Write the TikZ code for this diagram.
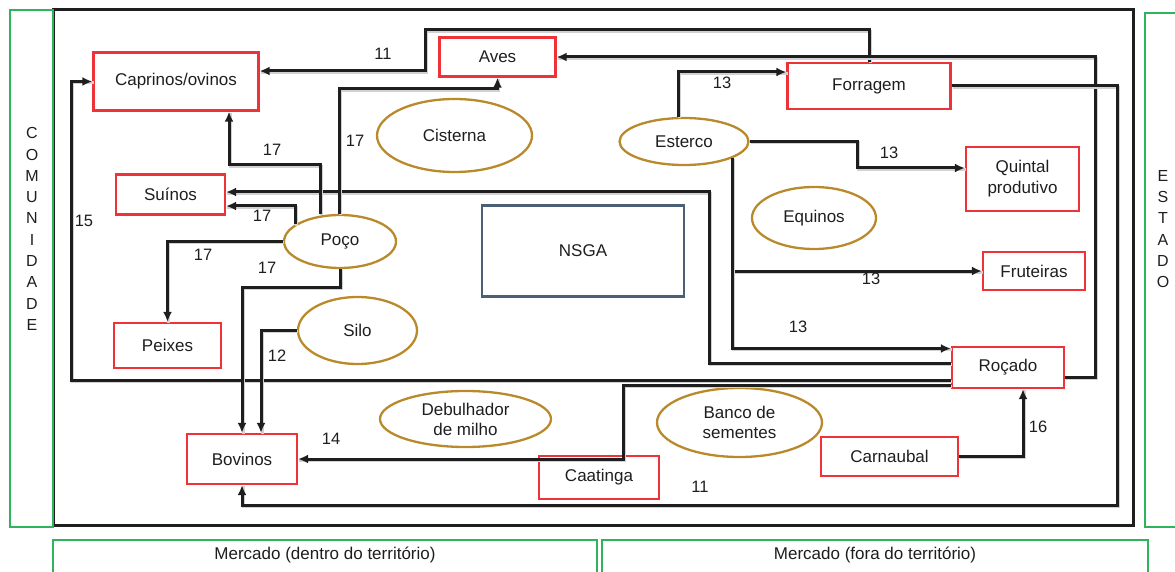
\documentclass[tikz,border=0pt]{standalone}
\usepackage{fontspec}
\setmainfont{Liberation Sans}
\usetikzlibrary{arrows.meta,shapes.geometric}
\definecolor{boxred}{HTML}{EE3237}
\definecolor{ochre}{HTML}{B88A2C}
\definecolor{frgreen}{HTML}{2FB35C}
\definecolor{ink}{HTML}{1E1E1E}
\definecolor{slate}{HTML}{4B5F75}
\begin{document}
\begin{tikzpicture}[x=1pt,y=-1pt,
  every node/.style={text=ink},
  redbox/.style={draw=boxred, line width=2.3pt, inner sep=0pt, align=center, font=\fontsize{17}{21}\selectfont},
  pond/.style={draw=ochre, line width=2.3pt, ellipse, inner sep=0pt, align=center, font=\fontsize{17}{20}\selectfont},
  flow/.style={draw=ink, line width=3pt, -{Latex[length=10pt,width=9pt]},
    preaction={draw=black!18, line width=3pt, arrows=-, transform canvas={shift={(1.2pt,-1.2pt)}}}},
  num/.style={font=\fontsize{16.5}{18}\selectfont},
  zone/.style={draw=frgreen, line width=2.3pt},
  zonetext/.style={font=\fontsize{16}{21.3}\selectfont, align=center, inner sep=0pt},
]
\useasboundingbox (0,0) rectangle (1175,572);

% outer frame of the system
\draw[draw=ink, line width=3pt] (53,10) rectangle (1133,525);

% surrounding zones
\draw[zone] (10,10) rectangle (53,527);
\draw[zone] (1145,13) rectangle (1195,527);
\draw[zone] (53,540) rectangle (597,590);
\draw[zone] (602,540) rectangle (1148,590);
\node[zonetext] (comunidade) at (32,229) {C\\O\\M\\U\\N\\I\\D\\A\\D\\E};
\node[zonetext] (estado) at (1163,229) {E\\S\\T\\A\\D\\O};
\node[font=\fontsize{17}{20}\selectfont] (mercin) at (325,555) {Mercado (dentro do território)};
\node[font=\fontsize{17}{20}\selectfont] (mercout) at (875,555) {Mercado (fora do território)};

% central unit
\node[draw=slate, line width=2.3pt, minimum width=202, minimum height=91, font=\fontsize{17}{20}\selectfont] (nsga) at (583,251) {NSGA};

% production units
\node[redbox, minimum width=165, minimum height=58] (capr) at (176,81.5) {Caprinos/ovinos};
\node[redbox, minimum width=116, minimum height=39] (aves) at (497.5,57) {Aves};
\node[redbox, minimum width=163, minimum height=46] (forr) at (869,86) {Forragem};
\node[redbox, minimum width=109, minimum height=40] (sui) at (170.5,194.5) {Suínos};
\node[redbox, minimum width=113, minimum height=64] (quin) at (1022.5,179) {Quintal\\produtivo};
\node[redbox, minimum width=102, minimum height=38] (fru) at (1034,271) {Fruteiras};
\node[redbox, minimum width=107, minimum height=45] (pei) at (167.5,345.5) {Peixes};
\node[redbox, minimum width=112, minimum height=41] (roc) at (1008,367.5) {Roçado};
\node[redbox, minimum width=110, minimum height=50] (bov) at (242,459) {Bovinos};
\node[redbox, minimum width=120, minimum height=43] (caa) at (599,477.5) {Caatinga};
\node[redbox, minimum width=137, minimum height=39] (car) at (889.5,456.5) {Carnaubal};

% infrastructure and resources
\node[pond, minimum width=155, minimum height=73] (cis) at (454.5,135.5) {Cisterna};
\node[pond, minimum width=129, minimum height=47] (est) at (684,141.5) {Esterco};
\node[pond, minimum width=124, minimum height=62] (equ) at (814,218) {Equinos};
\node[pond, minimum width=112, minimum height=53] (poco) at (340,241.5) {Poço};
\node[pond, minimum width=119, minimum height=67] (silo) at (357.5,330.5) {Silo};
\node[pond, minimum width=171, minimum height=56] (deb) at (465.5,419) {Debulhador\\de milho};
\node[pond, minimum width=165, minimum height=69] (ban) at (739.5,422.5) {Banco de\\sementes};

% flows
\draw[flow] (forr.north) -- (forr.north |- 0,30) -- (425,30) -- (425,71) -- (capr.east |- 0,71);
\draw[flow] (roc.east |- 0,377) -- (1095,377) -- (1095,57) -- (aves.east);
\draw[flow] (forr.east) -- (1117,86) -- (1117,505) -- (242,505) -- (bov.south);
\draw[flow] (est.north -| 678,0) -- (678,72) -- (forr.west |- 0,72);
\draw[flow] (est.east) -- (857,141.5) -- (857,168) -- (quin.west |- 0,168);
\draw[flow] (est.-19) -- (est.-19 |- fru.west) -- (fru.west);
\draw[flow] (est.-19) -- (est.-19 |- 0,348.5) -- (roc.west |- 0,348.5);
\draw[flow] (roc.west |- 0,363) -- (709,363) -- (709,192) -- (sui.east |- 0,192);
\draw[flow] (roc.west |- 0,380.5) -- (71,380.5) -- (71,81.5) -- (capr.west);
\draw[flow] (roc.west |- 0,385) -- (623,385) -- (623,459) -- (bov.east);
\draw[flow] (car.east) -| (roc.south -| 1023,0);
\draw[flow] (poco.north -| 320,0) -- (320,165) -- (229,165) -- (capr.south -| 229,0);
\draw[flow] (poco.north -| 339,0) -- (339,89) -- (497.5,89) -- (aves.south);
\draw[flow] (poco.159) -- (poco.159 |- 0,206) -- (sui.east |- 0,206);
\draw[flow] (poco.west) -| (pei.north);
\draw[flow] (poco.south) -- (340,287) -- (242,287) -- (bov.north);
\draw[flow] (silo.west) -| (bov.north -| 261,0);

% flow labels
\node[num] (l1) at (383,54) {11};
\node[num] (l2) at (272,150) {17};
\node[num] (l3) at (355,141) {17};
\node[num] (l4) at (262,216) {17};
\node[num] (l5) at (203,255) {17};
\node[num] (l6) at (267,268) {17};
\node[num] (l7) at (84,221) {15};
\node[num] (l8) at (277,356) {12};
\node[num] (l9) at (331,439) {14};
\node[num] (l10) at (722,83) {13};
\node[num] (l11) at (889,153) {13};
\node[num] (l12) at (871,279) {13};
\node[num] (l13) at (798,327) {13};
\node[num] (l14) at (1038,427) {16};
\node[num] (l15) at (700,487) {11};
\end{tikzpicture}
\end{document}
